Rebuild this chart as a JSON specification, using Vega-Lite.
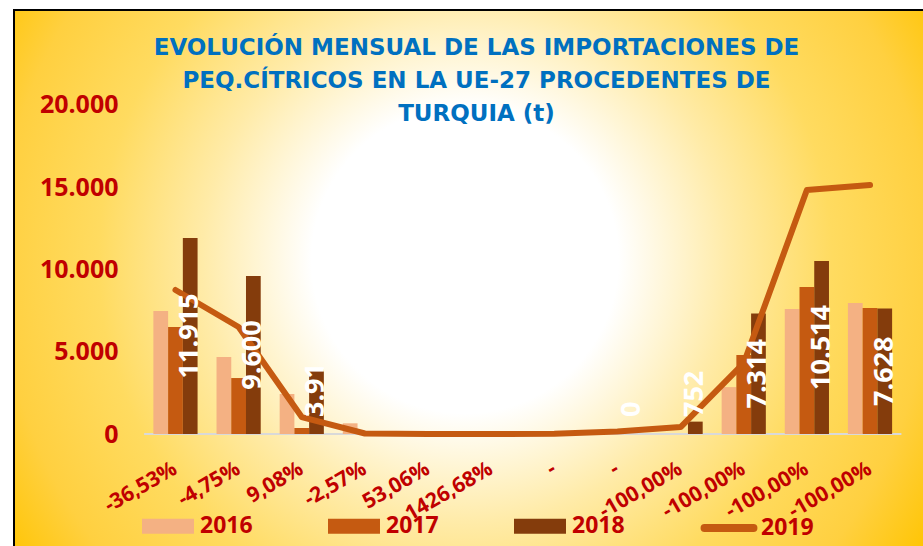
{
  "$schema": "https://vega.github.io/schema/vega-lite/v6.json",
  "width": 913,
  "height": 540,
  "autosize": {"type": "none"},
  "padding": {"left": 14, "top": 10, "right": -4, "bottom": -4},
  "background": "#FFFFFF",
  "view": {
    "stroke": "#000000",
    "strokeWidth": 2,
    "fill": {
      "gradient": "radial",
      "x1": 0.494, "y1": 0.478, "r1": 0,
      "x2": 0.494, "y2": 0.478, "r2": 0.6,
      "stops": [
        {"offset": 0, "color": "#FFFFFF"},
        {"offset": 0.28, "color": "#FFFFFF"},
        {"offset": 0.48, "color": "#FFEBA8"},
        {"offset": 0.67, "color": "#FFDB60"},
        {"offset": 0.85, "color": "#FFD040"},
        {"offset": 1, "color": "#FFC400"}
      ]
    }
  },
  "title": {
    "text": ["EVOLUCIÓN MENSUAL DE LAS IMPORTACIONES DE", "PEQ.CÍTRICOS EN LA UE-27 PROCEDENTES DE", "TURQUIA (t)"],
    "font": "DejaVu Sans",
    "fontSize": 23,
    "fontWeight": "bold",
    "color": "#0070C0",
    "lineHeight": 33,
    "anchor": "middle",
    "frame": "group",
    "offset": -116,
    "dx": 6
  },
  "data": {
    "values": [
      {"m": 1, "year": "2016", "v": 7470},
      {"m": 2, "year": "2016", "v": 4680},
      {"m": 3, "year": "2016", "v": 2430},
      {"m": 4, "year": "2016", "v": 650},
      {"m": 5, "year": "2016", "v": 0},
      {"m": 6, "year": "2016", "v": 0},
      {"m": 7, "year": "2016", "v": 0},
      {"m": 8, "year": "2016", "v": 0},
      {"m": 9, "year": "2016", "v": 0},
      {"m": 10, "year": "2016", "v": 2850},
      {"m": 11, "year": "2016", "v": 7600},
      {"m": 12, "year": "2016", "v": 7960},
      {"m": 1, "year": "2017", "v": 6500},
      {"m": 2, "year": "2017", "v": 3400},
      {"m": 3, "year": "2017", "v": 365},
      {"m": 4, "year": "2017", "v": 0},
      {"m": 5, "year": "2017", "v": 0},
      {"m": 6, "year": "2017", "v": 0},
      {"m": 7, "year": "2017", "v": 0},
      {"m": 8, "year": "2017", "v": 0},
      {"m": 9, "year": "2017", "v": 0},
      {"m": 10, "year": "2017", "v": 4800},
      {"m": 11, "year": "2017", "v": 8930},
      {"m": 12, "year": "2017", "v": 7650},
      {"m": 1, "year": "2018", "v": 11915, "lbl": "11.915"},
      {"m": 2, "year": "2018", "v": 9600, "lbl": "9.600"},
      {"m": 3, "year": "2018", "v": 3913, "lbl": "3.91"},
      {"m": 8, "year": "2018", "v": 0, "lbl": "0"},
      {"m": 9, "year": "2018", "v": 752, "lbl": "752"},
      {"m": 10, "year": "2018", "v": 7314, "lbl": "7.314"},
      {"m": 11, "year": "2018", "v": 10514, "lbl": "10.514"},
      {"m": 12, "year": "2018", "v": 7628, "lbl": "7.628"},
      {"m": 1, "year": "2019", "v": 8750},
      {"m": 2, "year": "2019", "v": 6500},
      {"m": 3, "year": "2019", "v": 1030},
      {"m": 4, "year": "2019", "v": 30},
      {"m": 5, "year": "2019", "v": 0},
      {"m": 6, "year": "2019", "v": 0},
      {"m": 7, "year": "2019", "v": 20},
      {"m": 8, "year": "2019", "v": 150},
      {"m": 9, "year": "2019", "v": 420},
      {"m": 10, "year": "2019", "v": 4300},
      {"m": 11, "year": "2019", "v": 14820},
      {"m": 12, "year": "2019", "v": 15130}
    ]
  },
  "resolve": {"scale": {"y": "independent"}},
  "layer": [
    {
      "data": {"values": [{}]},
      "mark": {"type": "rule", "color": "#D9D9D9", "strokeWidth": 2},
      "encoding": {
        "x": {"datum": 1, "type": "ordinal", "bandPosition": -0.21, "scale": {"domain": [-1, 0, 1, 2, 3, 4, 5, 6, 7, 8, 9, 10, 11, 12], "paddingInner": 0.3, "paddingOuter": 0.38, "align": 0.273}},
        "x2": {"datum": 12, "bandPosition": 1.21},
        "y": {"datum": 0, "type": "quantitative", "scale": {"domain": [-7047, 25759], "nice": false, "zero": false}, "axis": null}
      }
    },
    {
      "transform": [{"filter": "datum.year !== '2019'"}],
      "mark": {"type": "bar"},
      "encoding": {
        "x": {
          "field": "m",
          "type": "ordinal",
          "scale": {"domain": [-1, 0, 1, 2, 3, 4, 5, 6, 7, 8, 9, 10, 11, 12], "paddingInner": 0.3, "paddingOuter": 0.38, "align": 0.273},
          "axis": {
            "orient": "bottom",
            "offset": -116,
            "title": null,
            "domain": false,
            "ticks": false,
            "tickSize": 0,
            "grid": false,
            "labelAngle": -30,
            "labelAlign": "right",
            "labelBaseline": "middle",
            "labelPadding": 33,
            "labelFont": "Open Sans",
            "labelFontWeight": "bold",
            "labelFontSize": 21,
            "labelColor": "#C00000",
            "labelOverlap": false,
            "labelBound": false,
            "labelExpr": "datum.value < 1 ? '' : ['-36,53%','-4,75%','9,08%','-2,57%','53,06%','1426,68%','-','-','-100,00%','-100,00%','-100,00%','-100,00%'][datum.value - 1]"
          }
        },
        "xOffset": {"field": "year", "type": "nominal", "scale": {"paddingInner": 0}},
        "y": {
          "field": "v",
          "type": "quantitative",
          "scale": {"domain": [-7047, 25759], "nice": false, "zero": false},
          "axis": {
            "values": [0, 5000, 10000, 15000, 20000],
            "title": null,
            "domain": false,
            "ticks": false,
            "tickSize": 0,
            "grid": false,
            "labelPadding": -104,
            "labelFont": "Open Sans",
            "labelFontWeight": "bold",
            "labelFontSize": 25,
            "labelColor": "#C00000",
            "labelFlush": false,
            "labelOverlap": false,
            "labelExpr": "replace(format(datum.value, ','), ',', '.')"
          }
        },
        "color": {
          "field": "year",
          "type": "nominal",
          "scale": {"domain": ["2016", "2017", "2018", "2019"], "range": ["#F4B183", "#C55A11", "#843C0C", "#C55A11"]},
          "legend": {
            "orient": "none",
            "legendX": 124,
            "legendY": 486,
            "direction": "horizontal",
            "columns": 4,
            "columnPadding": 63,
            "title": null,
            "padding": 0,
            "labelFont": "Open Sans",
            "labelFontWeight": "bold",
            "labelFontSize": 23,
            "labelColor": "#C00000",
            "labelOffset": 2,
            "labelLimit": 200,
            "symbolSize": 2704,
            "symbolStrokeWidth": 8,
            "encode": {
              "symbols": {
                "update": {
                  "shape": {"signal": "datum.label === '2019' ? 'M-0.94,0H0.94' : 'M-0.846,-0.135H0.846V0.135H-0.846Z'"},
                  "fill": {"signal": "datum.label === '2019' ? 'transparent' : scale('color', datum.value)"},
                  "stroke": {"signal": "scale('color', datum.value)"},
                  "strokeCap": {"value": "round"},
                  "opacity": {"value": 1}
                }
              }
            }
          }
        }
      }
    },
    {
      "transform": [{"filter": "datum.year === '2019'"}],
      "mark": {"type": "line", "strokeWidth": 6, "strokeCap": "round", "strokeJoin": "round"},
      "encoding": {
        "x": {"field": "m", "type": "ordinal", "scale": {"domain": [-1, 0, 1, 2, 3, 4, 5, 6, 7, 8, 9, 10, 11, 12], "paddingInner": 0.3, "paddingOuter": 0.38, "align": 0.273}},
        "y": {"field": "v", "type": "quantitative", "scale": {"domain": [-7047, 25759], "nice": false, "zero": false}, "axis": null},
        "color": {"field": "year", "type": "nominal"}
      }
    },
    {
      "transform": [{"filter": "datum.lbl != null && datum.v >= 5000"}],
      "mark": {"type": "text", "angle": 270, "align": "center", "baseline": "middle", "font": "Open Sans", "fontWeight": "bold", "fontSize": 27, "fill": "#FFFFFF"},
      "encoding": {
        "x": {"field": "m", "type": "ordinal", "scale": {"domain": [-1, 0, 1, 2, 3, 4, 5, 6, 7, 8, 9, 10, 11, 12], "paddingInner": 0.3, "paddingOuter": 0.38, "align": 0.273}},
        "xOffset": {"field": "year", "type": "nominal"},
        "y": {"field": "v", "type": "quantitative", "scale": {"domain": [-14094, 51518], "nice": false, "zero": false}, "axis": null},
        "text": {"field": "lbl"}
      }
    },
    {
      "transform": [{"filter": "datum.lbl != null && datum.v < 5000"}],
      "mark": {"type": "text", "angle": 270, "align": "left", "baseline": "middle", "font": "Open Sans", "fontWeight": "bold", "fontSize": 27, "fill": "#FFFFFF"},
      "encoding": {
        "x": {"field": "m", "type": "ordinal", "scale": {"domain": [-1, 0, 1, 2, 3, 4, 5, 6, 7, 8, 9, 10, 11, 12], "paddingInner": 0.3, "paddingOuter": 0.38, "align": 0.273}},
        "xOffset": {"field": "year", "type": "nominal"},
        "y": {"datum": 1030, "type": "quantitative", "scale": {"domain": [-7047, 25759], "nice": false, "zero": false}, "axis": null},
        "text": {"field": "lbl"}
      }
    }
  ]
}
